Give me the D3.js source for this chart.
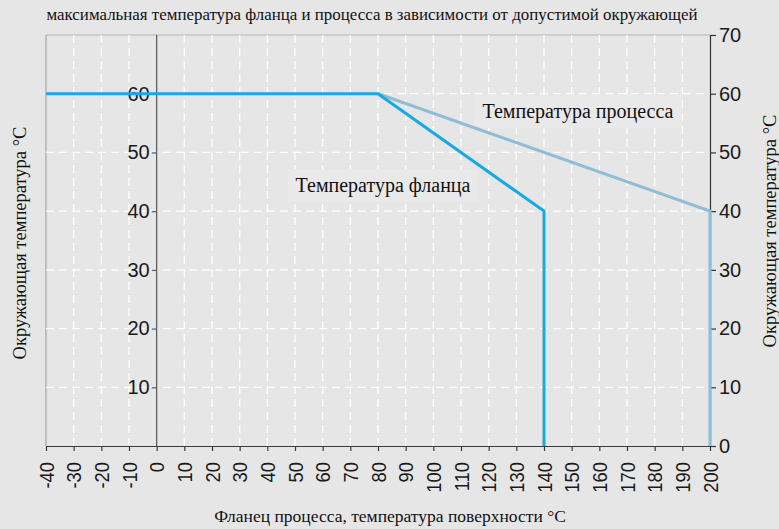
<!DOCTYPE html>
<html>
<head>
<meta charset="utf-8">
<script src="https://cdn.jsdelivr.net/npm/d3@7"></script>
<style>
  html, body { margin: 0; padding: 0; background: #e6e6e7; }
  svg { display: block; }
</style>
</head>
<body>
<svg id="chart" width="779" height="529"></svg>
<script>
// Temperature limits: flange and process vs. ambient temperature
const titleText = "максимальная температура фланца и процесса в зависимости от допустимой окружающей";
const xAxisTitle = "Фланец процесса, температура поверхности °C";
const yAxisTitle = "Окружающая температура °C";

const xTickValues = [-40, -30, -20, -10, 0, 10, 20, 30, 40, 50, 60, 70, 80, 90, 100,
                     110, 120, 130, 140, 150, 160, 170, 180, 190, 200];
const leftTickValues = [10, 20, 30, 40, 50, 60];
const rightTickValues = [0, 10, 20, 30, 40, 50, 60, 70];
const gridX = [-30, -20, -10, 10, 20, 30, 40, 50, 60, 70, 80, 90, 100,
               110, 120, 130, 140, 150, 160, 170, 180, 190];
const gridY = [10, 20, 30, 40, 50, 60];

// Flange temperature curve
const flangeX = [-40, 80, 140, 140];
const flangeY = [60, 60, 40, 0];
// Process temperature curve
const processX = [80, 200, 200];
const processY = [60, 40, 0];

const flangeLabel = "Температура фланца";
const processLabel = "Температура процесса";

const svg = d3.select("#chart");
const W = 779, H = 529;

svg.append("rect").attr("width", W).attr("height", H).attr("fill", "#e6e6e7");

const x = d3.scaleLinear().domain([-40, 200]).range([46, 710]);
const y = d3.scaleLinear().domain([0, 70]).range([446, 35]);

const sans = "'Liberation Sans', Arial, Helvetica, sans-serif";
const serif = "'Liberation Serif', 'Times New Roman', serif";
const plain = d => String(d);

// Frame: top and left edges
svg.append("line")
  .attr("x1", x(-40)).attr("x2", x(200)).attr("y1", y(70)).attr("y2", y(70))
  .attr("stroke", "#b4b4b6").attr("stroke-width", 1);
svg.append("line")
  .attr("x1", x(-40)).attr("x2", x(-40)).attr("y1", y(70)).attr("y2", y(0))
  .attr("stroke", "#a4a4a6").attr("stroke-width", 1.2);

// Dashed white grid
const grid = svg.append("g").attr("stroke", "#ffffff").attr("stroke-width", 1.3)
  .attr("stroke-dasharray", "8,5");
grid.selectAll(".gx").data(gridX).join("line")
  .attr("x1", d => x(d)).attr("x2", d => x(d))
  .attr("y1", y(0)).attr("y2", y(70));
grid.selectAll(".gy").data(gridY).join("line")
  .attr("x1", x(-40)).attr("x2", x(200))
  .attr("y1", d => y(d)).attr("y2", d => y(d));

// Label backgrounds and labels
function boxedLabel(text, cx, baseline, size) {
  const g = svg.append("g");
  const t = g.append("text")
    .attr("x", cx).attr("y", baseline)
    .attr("text-anchor", "middle")
    .attr("font-family", serif).attr("font-size", size)
    .attr("fill", "#111")
    .text(text);
  const bb = t.node().getBBox();
  g.insert("rect", "text")
    .attr("x", bb.x - 8).attr("y", bb.y - 5)
    .attr("width", bb.width + 16).attr("height", bb.height + 10)
    .attr("fill", "#e9e9ea");
}
boxedLabel(flangeLabel, 383, 192, 20);
boxedLabel(processLabel, 578, 118, 20);

// Axes
const bottomAxis = d3.axisBottom(x).tickValues(xTickValues).tickSize(5).tickSizeOuter(0).tickFormat(plain);
const gB = svg.append("g").attr("transform", `translate(0,${y(0)})`).call(bottomAxis);
gB.select(".domain").attr("stroke", "#3a3a3a").attr("stroke-width", 1.2);
gB.selectAll(".tick line").attr("stroke", "#3a3a3a").attr("stroke-width", 1.2);
gB.selectAll(".tick text")
  .attr("font-family", sans).attr("font-size", 20).attr("fill", "#1a1a1a")
  .attr("transform", "rotate(-90) scale(0.92,1)")
  .attr("text-anchor", "end")
  .attr("x", -16 / 0.92).attr("y", 0).attr("dy", "0.35em");

const leftAxis = d3.axisLeft(y).tickValues(leftTickValues).tickSize(5).tickSizeOuter(0).tickFormat(plain);
const gL = svg.append("g").attr("transform", `translate(${x(0)},0)`).call(leftAxis);
gL.select(".domain").attr("stroke", "#555").attr("stroke-width", 1.2)
  .attr("d", `M0,${y(70)}V${y(0)}`);
gL.selectAll(".tick line").attr("stroke", "#555").attr("stroke-width", 1.2);
gL.selectAll(".tick text")
  .attr("font-family", sans).attr("font-size", 20).attr("fill", "#1a1a1a")
  .attr("x", -7);

const rightAxis = d3.axisRight(y).tickValues(rightTickValues).tickSize(6).tickSizeOuter(0).tickFormat(plain);
const gR = svg.append("g").attr("transform", `translate(${x(200)},0)`).call(rightAxis);
gR.select(".domain").attr("stroke", "#333").attr("stroke-width", 1.2);
gR.selectAll(".tick line").attr("stroke", "#333").attr("stroke-width", 1.2);
gR.selectAll(".tick text")
  .attr("font-family", sans).attr("font-size", 20).attr("fill", "#1a1a1a")
  .attr("x", 9);

// Curves
const lineGen = d3.line().x(d => x(d[0])).y(d => y(d[1]));
svg.append("path")
  .datum(processX.map((v, i) => [v, processY[i]]))
  .attr("d", lineGen).attr("fill", "none")
  .attr("stroke", "#8fbdd5").attr("stroke-width", 3);
svg.append("path")
  .datum(flangeX.map((v, i) => [v, flangeY[i]]))
  .attr("d", lineGen).attr("fill", "none")
  .attr("stroke", "#17a9e3").attr("stroke-width", 3);

// Titles
svg.append("text")
  .attr("x", 372).attr("y", 20).attr("text-anchor", "middle")
  .attr("font-family", serif).attr("font-size", 17).attr("fill", "#111")
  .attr("textLength", 651).attr("lengthAdjust", "spacingAndGlyphs")
  .text(titleText);

svg.append("text")
  .attr("x", 390).attr("y", 522).attr("text-anchor", "middle")
  .attr("font-family", serif).attr("font-size", 17.5).attr("fill", "#111")
  .text(xAxisTitle);

svg.append("text")
  .attr("transform", `translate(26,243) rotate(-90)`)
  .attr("text-anchor", "middle")
  .attr("font-family", serif).attr("font-size", 18.5).attr("fill", "#111")
  .text(yAxisTitle);

svg.append("text")
  .attr("transform", `translate(776,231) rotate(-90)`)
  .attr("text-anchor", "middle")
  .attr("font-family", serif).attr("font-size", 18.5).attr("fill", "#111")
  .text(yAxisTitle);
</script>
</body>
</html>
